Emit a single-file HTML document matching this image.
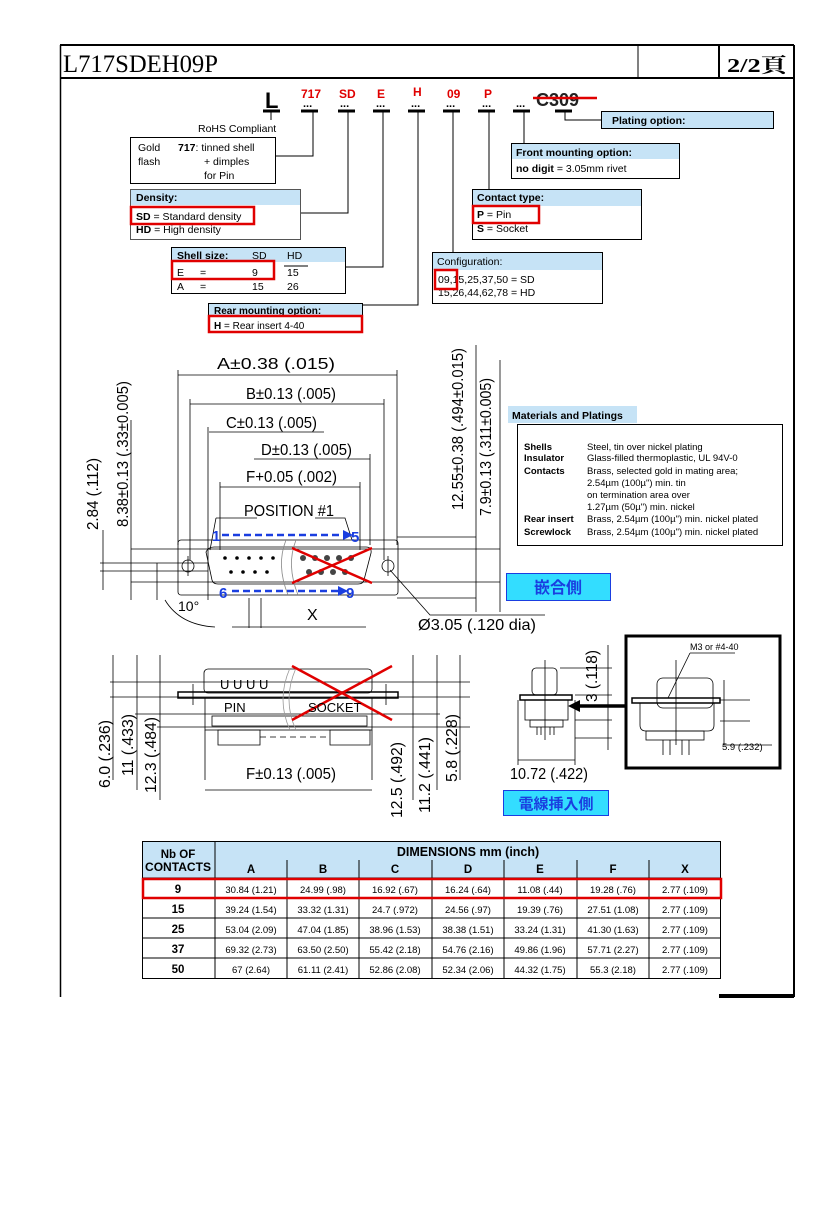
<!DOCTYPE html>
<html><head><meta charset="utf-8"><style>
body{margin:0;background:#fff}
svg{display:block}
text{font-family:"Liberation Sans","Noto Sans CJK JP",sans-serif}
text.serif{font-family:"Liberation Serif","Noto Serif CJK SC",serif}
</style></head><body>
<svg width="827" height="1205" viewBox="0 0 827 1205" xmlns="http://www.w3.org/2000/svg">
<rect width="827" height="1205" fill="#fff"/>
<!-- frame -->
<g stroke="#000" fill="none">
<line x1="60" y1="45" x2="794" y2="45" stroke-width="2"/>
<line x1="60" y1="78" x2="794" y2="78" stroke-width="2"/>
<line x1="60.5" y1="45" x2="60.5" y2="997" stroke-width="1.5"/>
<line x1="794" y1="45" x2="794" y2="997" stroke-width="2"/>
<line x1="638" y1="45" x2="638" y2="78" stroke-width="1"/>
<line x1="719" y1="45" x2="719" y2="78" stroke-width="2"/>
<line x1="719" y1="996" x2="794" y2="996" stroke-width="4"/>
</g>
<text class="serif" x="63" y="72" font-size="25" textLength="155" lengthAdjust="spacingAndGlyphs">L717SDEH09P</text>
<text class="serif" x="727" y="72" font-size="20" font-weight="bold" textLength="60" lengthAdjust="spacingAndGlyphs">2/2頁</text>

<!-- part code -->
<text x="265" y="108" font-size="22" font-weight="bold">L</text>
<g fill="#e00000" font-size="12" font-weight="bold">
<text x="301" y="98">717</text><text x="339" y="98">SD</text><text x="377" y="98">E</text>
<text x="413" y="96">H</text><text x="447" y="98">09</text><text x="484" y="98">P</text>
</g>
<g font-size="11" font-weight="bold">
<text x="303" y="107">...</text><text x="340" y="107">...</text><text x="376" y="107">...</text><text x="411" y="107">...</text><text x="446" y="107">...</text><text x="482" y="107">...</text><text x="516" y="107">...</text>
</g>
<text x="536" y="106" font-size="18" font-weight="bold" fill="#222">C309</text>
<line x1="533" y1="98" x2="597" y2="98" stroke="#e00000" stroke-width="2.5"/>
<g stroke="#000" stroke-width="3">
<line x1="263" y1="111" x2="280" y2="111"/><line x1="301" y1="111" x2="318" y2="111"/><line x1="338" y1="111" x2="355" y2="111"/><line x1="373" y1="111" x2="390" y2="111"/><line x1="408" y1="111" x2="425" y2="111"/><line x1="443" y1="111" x2="460" y2="111"/><line x1="478" y1="111" x2="495" y2="111"/><line x1="513" y1="111" x2="530" y2="111"/><line x1="555" y1="111" x2="572" y2="111"/>
</g>
<g stroke="#000" stroke-width="1" fill="none">
<polyline points="271,111 271,120"/>
<polyline points="313,111 313,156 275,156"/>
<polyline points="348,111 348,213 300,213"/>
<polyline points="383,111 383,267 345,267"/>
<polyline points="418,111 418,305 363,305"/>
<polyline points="453,111 453,252"/>
<polyline points="489,111 489,189"/>
<polyline points="524,111 524,143"/>
<polyline points="565,111 565,120 601,120"/>
</g>
<text x="198" y="132" font-size="10.5">RoHS Compliant</text>
<rect x="130.5" y="137.5" width="145" height="46" fill="none" stroke="#000"/>
<g font-size="10.5"><text x="138" y="151">Gold</text><text x="178" y="151"><tspan font-weight="bold">717</tspan>: tinned shell</text><text x="138" y="165">flash</text><text x="204" y="165">+ dimples</text><text x="204" y="179">for Pin</text></g>

<!-- density -->
<rect x="130.5" y="189.5" width="170" height="50" fill="#fff" stroke="#555"/>
<rect x="131" y="190" width="169" height="15" fill="#c6e3f6"/>
<text x="136" y="201" font-size="10.5" font-weight="bold">Density:</text>
<text x="136" y="220" font-size="10.5"><tspan font-weight="bold">SD</tspan> = Standard density</text>
<text x="136" y="233" font-size="10.5"><tspan font-weight="bold">HD</tspan> = High density</text>
<rect x="131" y="207" width="123" height="17" fill="none" stroke="#e00000" stroke-width="2.5"/>

<!-- shell -->
<rect x="171.5" y="247.5" width="174" height="46" fill="#fff" stroke="#000"/>
<rect x="172" y="248" width="173" height="14" fill="#c6e3f6"/>
<g font-size="10.5"><text x="177" y="259" font-weight="bold">Shell size:</text><text x="252" y="259">SD</text><text x="287" y="259">HD</text>
<text x="177" y="276">E</text><text x="200" y="276">=</text><text x="252" y="276">9</text><text x="287" y="276">15</text>
<text x="177" y="290">A</text><text x="200" y="290">=</text><text x="252" y="290">15</text><text x="287" y="290">26</text></g>
<line x1="284" y1="266" x2="308" y2="266" stroke="#000"/>
<rect x="172" y="261" width="102" height="18" fill="none" stroke="#e00000" stroke-width="2.5"/>

<!-- rear -->
<rect x="208.5" y="303.5" width="154" height="28" fill="#fff" stroke="#000"/>
<rect x="209" y="304" width="153" height="12" fill="#c6e3f6"/>
<text x="214" y="314" font-size="10" font-weight="bold">Rear mounting option:</text>
<text x="214" y="329" font-size="10"><tspan font-weight="bold">H</tspan>   = Rear insert 4-40</text>
<rect x="209" y="316" width="153" height="16" fill="none" stroke="#e00000" stroke-width="2.5"/>

<!-- config -->
<rect x="432.5" y="252.5" width="170" height="51" fill="#fff" stroke="#000"/>
<rect x="433" y="253" width="169" height="17" fill="#c6e3f6"/>
<text x="437" y="265" font-size="10.5">Configuration:</text>
<text x="438" y="283" font-size="10.5">09,15,25,37,50  =  SD</text>
<text x="438" y="296" font-size="10.5">15,26,44,62,78  =  HD</text>
<rect x="435" y="270" width="22" height="19" fill="none" stroke="#e00000" stroke-width="2.5"/>

<!-- contact -->
<rect x="472.5" y="189.5" width="169" height="50" fill="#fff" stroke="#000"/>
<rect x="473" y="190" width="168" height="16" fill="#c6e3f6"/>
<text x="477" y="201" font-size="10.5" font-weight="bold">Contact type:</text>
<text x="477" y="218" font-size="10.5"><tspan font-weight="bold">P</tspan> = Pin</text>
<text x="477" y="232" font-size="10.5"><tspan font-weight="bold">S</tspan> = Socket</text>
<rect x="473" y="206" width="66" height="17" fill="none" stroke="#e00000" stroke-width="2.5"/>

<!-- front -->
<rect x="511.5" y="143.5" width="168" height="35" fill="#fff" stroke="#000"/>
<rect x="512" y="144" width="167" height="15" fill="#c6e3f6"/>
<text x="516" y="156" font-size="10.5" font-weight="bold">Front mounting option:</text>
<text x="516" y="172" font-size="10.5"><tspan font-weight="bold">no digit</tspan> = 3.05mm rivet</text>

<!-- plating -->
<rect x="601.5" y="111.5" width="172" height="17" fill="#c6e3f6" stroke="#000"/>
<text x="612" y="124" font-size="10.5" font-weight="bold">Plating option:</text>

<!-- front view drawing -->
<g stroke="#000" stroke-width="0.8" fill="none">
<line x1="178" y1="375" x2="397" y2="375"/><line x1="178" y1="370" x2="178" y2="545"/><line x1="397" y1="370" x2="397" y2="545"/>
<line x1="190" y1="404" x2="384" y2="404"/><line x1="190" y1="399" x2="190" y2="560"/><line x1="384" y1="399" x2="384" y2="560"/>
<line x1="209" y1="432" x2="324" y2="432"/><line x1="208" y1="427" x2="208" y2="600"/>
<line x1="254" y1="459" x2="370" y2="459"/><line x1="370" y1="454" x2="370" y2="545"/>
<line x1="220" y1="487" x2="360" y2="487"/><line x1="220" y1="482" x2="220" y2="550"/><line x1="360" y1="482" x2="360" y2="550"/>
<line x1="131" y1="420" x2="131" y2="600"/><line x1="103" y1="530" x2="103" y2="590"/>
<line x1="476" y1="345" x2="476" y2="612"/><line x1="500" y1="360" x2="500" y2="612"/>
<line x1="131" y1="549" x2="500" y2="549"/><line x1="131" y1="582" x2="500" y2="582"/>
<line x1="100" y1="563" x2="208" y2="563"/><line x1="100" y1="571" x2="208" y2="571"/>
<line x1="397" y1="537" x2="476" y2="537"/><line x1="397" y1="598" x2="476" y2="598"/>
<rect x="178" y="540" width="220" height="55" rx="3"/>
<path d="M206 552 Q208 547 214 547 L366 547 Q372 547 371 553 L364 580 Q363 584 358 584 L218 584 Q213 584 212 580 Z"/>
<circle cx="188" cy="566" r="6"/><circle cx="388" cy="566" r="6"/>
<line x1="188" y1="556" x2="188" y2="576"/><line x1="388" y1="556" x2="388" y2="576"/>
<path d="M286 540 Q276 565 288 595 M296 540 Q286 565 298 595" stroke="#888"/>
<polyline points="216,518 257,518"/><polyline points="315,518 345,518 352,540"/>
<line x1="216" y1="518" x2="210" y2="550"/>
<path d="M165 600 Q180 625 215 627"/>
<line x1="249" y1="598" x2="249" y2="628"/><line x1="261" y1="598" x2="261" y2="628"/>
<line x1="232" y1="627" x2="366" y2="627"/>
<polyline points="390,570 430,615 545,615"/>
<line x1="157" y1="563" x2="157" y2="600"/>
</g>
<g fill="#000">
<circle cx="225" cy="558" r="1.8"/><circle cx="237" cy="558" r="1.8"/><circle cx="249" cy="558" r="1.8"/><circle cx="261" cy="558" r="1.8"/><circle cx="273" cy="558" r="1.8"/>
<circle cx="231" cy="572" r="1.8"/><circle cx="243" cy="572" r="1.8"/><circle cx="255" cy="572" r="1.8"/><circle cx="267" cy="572" r="1.8"/>
</g>
<g fill="#444"><circle cx="303" cy="558" r="3"/><circle cx="315" cy="558" r="3"/><circle cx="327" cy="558" r="3"/><circle cx="339" cy="558" r="3"/><circle cx="351" cy="558" r="3"/>
<circle cx="309" cy="572" r="3"/><circle cx="321" cy="572" r="3"/><circle cx="333" cy="572" r="3"/><circle cx="345" cy="572" r="3"/></g>
<g stroke="#e00000" stroke-width="2.5"><line x1="292" y1="548" x2="372" y2="583"/><line x1="292" y1="583" x2="372" y2="548"/></g>
<g stroke="#1a3ee0" stroke-width="2.5" stroke-dasharray="7,4"><line x1="222" y1="535" x2="345" y2="535"/><line x1="232" y1="591" x2="340" y2="591"/></g>
<g fill="#1a3ee0"><path d="M343 530 L353 535 L343 540Z"/><path d="M338 586 L348 591 L338 596Z"/>
<g font-size="15" font-weight="bold"><text x="212" y="541">1</text><text x="351" y="542">5</text><text x="219" y="598">6</text><text x="346" y="598">9</text></g></g>
<g font-size="16">
<text x="217" y="369" textLength="118" lengthAdjust="spacingAndGlyphs">A±0.38 (.015)</text>
<text x="246" y="399" textLength="90" lengthAdjust="spacingAndGlyphs">B±0.13 (.005)</text>
<text x="226" y="428" textLength="91" lengthAdjust="spacingAndGlyphs">C±0.13 (.005)</text>
<text x="261" y="455" textLength="91" lengthAdjust="spacingAndGlyphs">D±0.13 (.005)</text>
<text x="246" y="482" textLength="91" lengthAdjust="spacingAndGlyphs">F+0.05 (.002)</text>
<text x="244" y="516" textLength="90" lengthAdjust="spacingAndGlyphs">POSITION #1</text>
<text x="178" y="611" font-size="14">10°</text>
<text x="307" y="620">X</text>
<text x="418" y="630" textLength="118" lengthAdjust="spacingAndGlyphs">Ø3.05 (.120 dia)</text>
</g>
<g font-size="16">
<text transform="translate(98,530) rotate(-90)" textLength="72" lengthAdjust="spacingAndGlyphs">2.84 (.112)</text>
<text transform="translate(128,527) rotate(-90)" textLength="146" lengthAdjust="spacingAndGlyphs">8.38±0.13 (.33±0.005)</text>
<text transform="translate(463,510) rotate(-90)" textLength="162" lengthAdjust="spacingAndGlyphs">12.55±0.38 (.494±0.015)</text>
<text transform="translate(491,516) rotate(-90)" textLength="138" lengthAdjust="spacingAndGlyphs">7.9±0.13 (.311±0.005)</text>
</g>

<!-- materials -->
<rect x="508" y="406" width="129" height="17" fill="#c6e3f6"/>
<text x="512" y="419" font-size="10.5" font-weight="bold">Materials and Platings</text>
<rect x="517.5" y="424.5" width="265" height="121" fill="none" stroke="#000"/>
<g font-size="9.5"><g font-weight="bold"><text x="524" y="450">Shells</text><text x="524" y="461">Insulator</text><text x="524" y="474">Contacts</text><text x="524" y="522">Rear insert</text><text x="524" y="535">Screwlock</text></g>
<text x="587" y="450">Steel, tin over nickel plating</text><text x="587" y="461">Glass-filled thermoplastic, UL 94V-0</text>
<text x="587" y="474">Brass, selected gold in mating area;</text><text x="587" y="486">2.54µm (100µ") min. tin</text>
<text x="587" y="498">on termination area over</text><text x="587" y="510">1.27µm (50µ") min. nickel</text>
<text x="587" y="522">Brass, 2.54µm (100µ") min. nickel plated</text><text x="587" y="535">Brass, 2.54µm (100µ") min. nickel plated</text></g>
<rect x="506.5" y="573.5" width="104" height="27" fill="#33ddff" stroke="#1a3ee0"/>
<text x="558" y="593" font-size="16" font-weight="bold" fill="#1a3ee0" text-anchor="middle">嵌合側</text>

<!-- side view -->
<g stroke="#000" stroke-width="0.8" fill="none">
<line x1="113" y1="655" x2="113" y2="780"/><line x1="137" y1="655" x2="137" y2="790"/><line x1="160" y1="655" x2="160" y2="800"/>
<line x1="413" y1="655" x2="413" y2="800"/><line x1="437" y1="655" x2="437" y2="790"/><line x1="460" y1="655" x2="460" y2="780"/>
<line x1="110" y1="682" x2="470" y2="682"/><line x1="110" y1="697" x2="470" y2="697"/>
<line x1="135" y1="714" x2="440" y2="714"/><line x1="157" y1="727" x2="470" y2="727"/>
<rect x="204" y="669" width="168" height="24" rx="4"/>
<rect x="178" y="692" width="220" height="6" stroke-width="1.5"/>
<rect x="205" y="698" width="167" height="32"/>
<rect x="212" y="716" width="155" height="10"/>
<line x1="205" y1="730" x2="205" y2="780"/><line x1="372" y1="730" x2="372" y2="780"/>
<line x1="205" y1="790" x2="372" y2="790"/>
<line x1="193" y1="684" x2="193" y2="705"/><line x1="386" y1="684" x2="386" y2="705"/>
<path d="M218 730 h42 v15 h-42 z M330 730 h40 v15 h-40z"/>
<path d="M290 668 Q276 700 290 730 M296 668 Q282 700 296 730" stroke="#999"/>
<line x1="260" y1="737" x2="330" y2="737" stroke-dasharray="6,4"/>
<rect x="532" y="668" width="25" height="27" rx="4"/>
<rect x="520" y="695" width="52" height="5" stroke-width="1.5"/>
<rect x="525" y="700" width="43" height="20"/>
<rect x="530" y="720" width="33" height="7"/>
<path d="M537 727 v8 M541 727 v8 M550 727 v8 M554 727 v8"/>
<line x1="518" y1="700" x2="518" y2="765"/><line x1="575" y1="700" x2="575" y2="765"/>
<line x1="518" y1="760" x2="575" y2="760"/>
<line x1="545" y1="660" x2="545" y2="740"/>
<line x1="608" y1="645" x2="608" y2="750"/>
<line x1="560" y1="668" x2="612" y2="668"/><line x1="575" y1="695" x2="612" y2="695"/><line x1="575" y1="720" x2="612" y2="720"/><line x1="575" y1="738" x2="612" y2="738"/>
<rect x="657" y="678" width="56" height="30" rx="6"/>
<rect x="632" y="698" width="88" height="5" stroke-width="1.5"/>
<path d="M640 703 v22 q0 6 6 6 h62 q6 0 6 -6 v-22"/>
<rect x="646" y="731" width="58" height="9"/>
<path d="M663 740 v15 M670 740 v15 M682 740 v15 M689 740 v15"/>
<line x1="676" y1="660" x2="676" y2="745"/>
<polyline points="690,653 735,653"/><line x1="690" y1="653" x2="668" y2="698"/>
<line x1="720" y1="700" x2="750" y2="700"/><line x1="720" y1="721" x2="750" y2="721"/>
<line x1="724" y1="680" x2="724" y2="745"/><line x1="724" y1="745" x2="772" y2="745"/>
</g>
<rect x="626" y="636" width="154" height="132" fill="none" stroke="#000" stroke-width="3"/>
<line x1="626" y1="706" x2="578" y2="706" stroke="#000" stroke-width="3.5"/>
<path d="M568 706 L580 700 L580 712Z" fill="#000"/>
<g stroke="#e00000" stroke-width="2.5"><line x1="292" y1="666" x2="392" y2="720"/><line x1="292" y1="720" x2="392" y2="666"/></g>
<g font-size="13"><text x="220" y="689">U U U U</text><text x="224" y="712">PIN</text><text x="308" y="712">SOCKET</text></g>
<g font-size="16">
<text x="246" y="779" textLength="90" lengthAdjust="spacingAndGlyphs">F±0.13 (.005)</text>
<text x="510" y="779" textLength="78" lengthAdjust="spacingAndGlyphs">10.72 (.422)</text>
<text transform="translate(110,788) rotate(-90)" textLength="68" lengthAdjust="spacingAndGlyphs">6.0 (.236)</text>
<text transform="translate(133,776) rotate(-90)" textLength="62" lengthAdjust="spacingAndGlyphs">11 (.433)</text>
<text transform="translate(156,793) rotate(-90)" textLength="76" lengthAdjust="spacingAndGlyphs">12.3 (.484)</text>
<text transform="translate(402,818) rotate(-90)" textLength="76" lengthAdjust="spacingAndGlyphs">12.5 (.492)</text>
<text transform="translate(430,813) rotate(-90)" textLength="76" lengthAdjust="spacingAndGlyphs">11.2 (.441)</text>
<text transform="translate(457,782) rotate(-90)" textLength="68" lengthAdjust="spacingAndGlyphs">5.8 (.228)</text>
<text transform="translate(597,702) rotate(-90)" textLength="52" lengthAdjust="spacingAndGlyphs">3 (.118)</text>
</g>
<text x="690" y="650" font-size="9">M3 or #4-40</text>
<text x="722" y="750" font-size="9.5">5.9 (.232)</text>
<rect x="503.5" y="790.5" width="105" height="25" fill="#33ddff" stroke="#1a3ee0"/>
<text x="556" y="809" font-size="15" font-weight="bold" fill="#1a3ee0" text-anchor="middle">電線挿入側</text>

<!-- table -->
<rect x="142" y="841" width="579" height="37" fill="#c6e3f6"/>
<g stroke="#000" stroke-width="1" fill="none">
<rect x="142.5" y="841.5" width="578" height="137"/>
<line x1="215" y1="841" x2="215" y2="978"/>
<line x1="142" y1="878" x2="721" y2="878"/><line x1="142" y1="898" x2="721" y2="898"/><line x1="142" y1="918" x2="721" y2="918"/><line x1="142" y1="938" x2="721" y2="938"/><line x1="142" y1="958" x2="721" y2="958"/>
<path d="M287 860 V978 M359 860 V978 M432 860 V978 M504 860 V978 M577 860 V978 M649 860 V978"/>
</g>
<g font-size="11.5" font-weight="bold" text-anchor="middle">
<text x="178" y="858">Nb OF</text><text x="178" y="871" textLength="66" lengthAdjust="spacingAndGlyphs">CONTACTS</text>
<text x="468" y="856" font-size="12.5">DIMENSIONS mm (inch)</text>
<text x="251" y="873">A</text><text x="323" y="873">B</text><text x="395" y="873">C</text><text x="468" y="873">D</text><text x="540" y="873">E</text><text x="613" y="873">F</text><text x="685" y="873">X</text>
<text x="178" y="893">9</text><text x="178" y="913">15</text><text x="178" y="933">25</text><text x="178" y="953">37</text><text x="178" y="973">50</text>
</g>
<g font-size="9.5" text-anchor="middle">
<text x="251" y="893">30.84 (1.21)</text><text x="323" y="893">24.99 (.98)</text><text x="395" y="893">16.92 (.67)</text><text x="468" y="893">16.24 (.64)</text><text x="540" y="893">11.08 (.44)</text><text x="613" y="893">19.28 (.76)</text><text x="685" y="893">2.77 (.109)</text>
<text x="251" y="913">39.24 (1.54)</text><text x="323" y="913">33.32 (1.31)</text><text x="395" y="913">24.7 (.972)</text><text x="468" y="913">24.56 (.97)</text><text x="540" y="913">19.39 (.76)</text><text x="613" y="913">27.51 (1.08)</text><text x="685" y="913">2.77 (.109)</text>
<text x="251" y="933">53.04 (2.09)</text><text x="323" y="933">47.04 (1.85)</text><text x="395" y="933">38.96 (1.53)</text><text x="468" y="933">38.38 (1.51)</text><text x="540" y="933">33.24 (1.31)</text><text x="613" y="933">41.30 (1.63)</text><text x="685" y="933">2.77 (.109)</text>
<text x="251" y="953">69.32 (2.73)</text><text x="323" y="953">63.50 (2.50)</text><text x="395" y="953">55.42 (2.18)</text><text x="468" y="953">54.76 (2.16)</text><text x="540" y="953">49.86 (1.96)</text><text x="613" y="953">57.71 (2.27)</text><text x="685" y="953">2.77 (.109)</text>
<text x="251" y="973">67 (2.64)</text><text x="323" y="973">61.11 (2.41)</text><text x="395" y="973">52.86 (2.08)</text><text x="468" y="973">52.34 (2.06)</text><text x="540" y="973">44.32 (1.75)</text><text x="613" y="973">55.3 (2.18)</text><text x="685" y="973">2.77 (.109)</text>
</g>
<rect x="143" y="879" width="578" height="19" fill="none" stroke="#e00000" stroke-width="2.5"/>
</svg>
</body></html>
